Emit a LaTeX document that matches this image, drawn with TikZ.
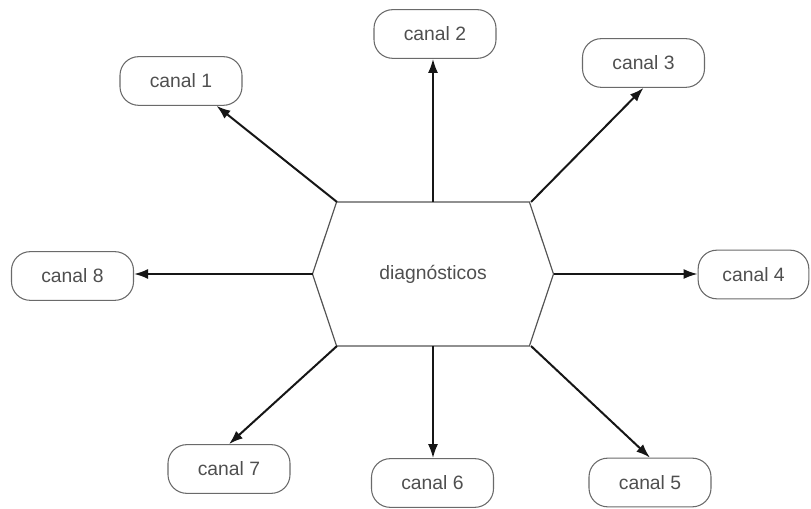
\documentclass[tikz,border=0pt]{standalone}
\usepackage{fontspec}
\setmainfont{Liberation Sans}
\usepackage{tikz}
\usetikzlibrary{arrows.meta,shapes.symbols}
\definecolor{ink}{HTML}{161616}
\definecolor{rim}{HTML}{6A6A6A}
\definecolor{txt}{HTML}{4F4F4F}
\tikzset{canalbox/.style={draw=rim,line width=0.8pt,rounded corners=14pt,minimum width=91.5pt,minimum height=36.5pt,inner sep=0pt,text=txt,font=\fontsize{14.5}{16}\selectfont},
hexa/.style={shape=signal,signal to=west and east,signal pointer angle=143,draw=rim!80!black,line width=0.9pt,minimum width=180.75pt,minimum height=108pt,inner sep=0pt,outer sep=0pt,text=txt,font=\fontsize{14.5}{16}\selectfont},
arr/.style={-{Latex[length=10.5pt,width=7.5pt]},line width=1.5pt,draw=ink}}
\begin{document}
\begin{tikzpicture}[x=0.75pt,y=-0.75pt]
\useasboundingbox (0,0) rectangle (811,509);
\node[hexa] (diag) at (433,274) {diagnósticos};
% corners of the hexagon
\coordinate (hnw) at (337,202);
\coordinate (hne) at (531,202);
\coordinate (hsw) at (337,346);
\coordinate (hse) at (531,346);
% channels
\node[canalbox] (c1) at (181,81) {canal 1};
\node[canalbox] (c2) at (435,34) {canal 2};
\node[canalbox] (c3) at (643.5,63) {canal 3};
\node[canalbox,minimum width=83pt] (c4) at (753.5,274.5) {canal 4};
\node[canalbox] (c5) at (650,482.5) {canal 5};
\node[canalbox] (c6) at (432.5,483) {canal 6};
\node[canalbox] (c7) at (229,469) {canal 7};
\node[canalbox] (c8) at (72.5,276) {canal 8};
\draw[arr] (hnw) -- (c1.-35);
\draw[arr] (diag.north) -- (diag.north |- c2.south);
\draw[arr] (hne) -- (c3.south);
\draw[arr] (diag.east) -- (diag.east -| c4.west);
\draw[arr] (hse) -- (c5.north);
\draw[arr] (diag.south) -- (diag.south |- c6.north);
\draw[arr] (hsw) -- (c7.north);
\draw[arr] (diag.west) -- (diag.west -| c8.east);
\end{tikzpicture}
\end{document}
